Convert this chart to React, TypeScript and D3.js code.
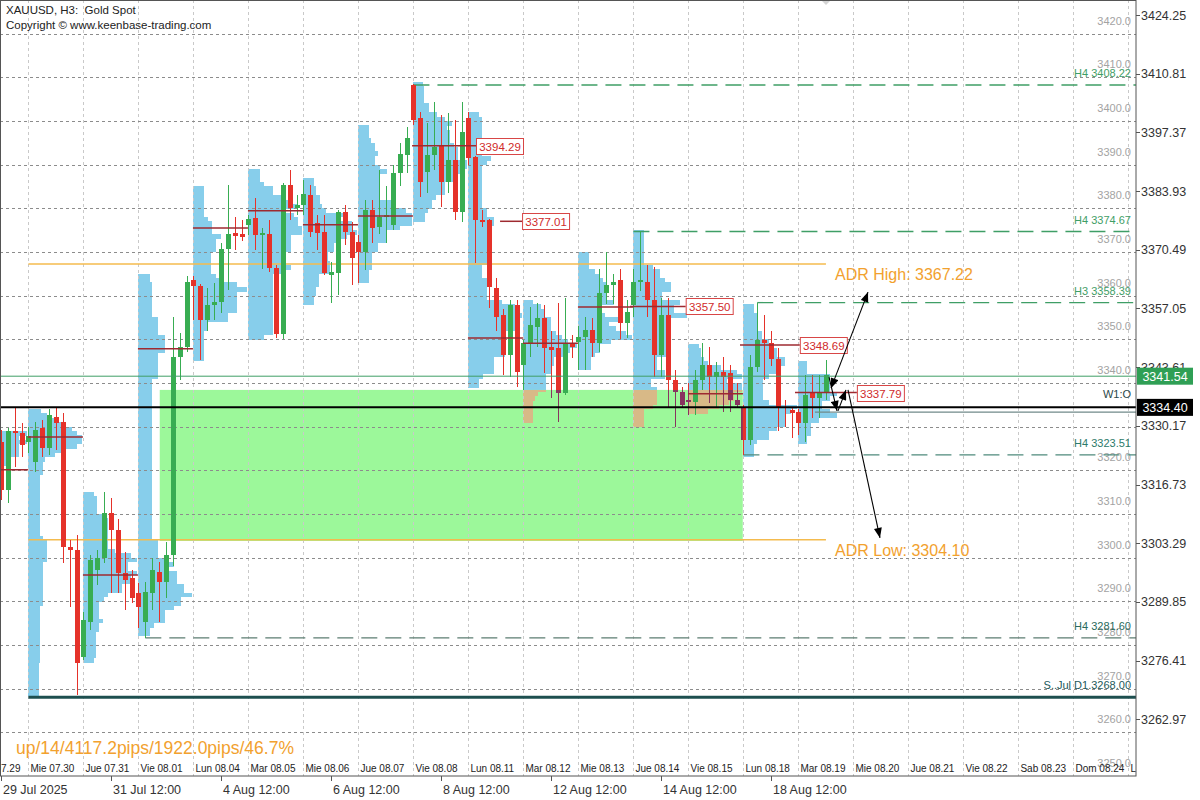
import * as d3 from 'd3';

// XAUUSD H3 candles. Bar index 0 = Tue 29 Jul 00:00, 8 bars per day (weekends skipped)
const FIRST_BAR = 4;
const barOpen = [
  3326.5, 3315.5, 3329.0, 3328.5,
  3326.5, 3321.9, 3329.7, 3325.1, 3332.2, 3331.0, 3302.4, 3301.7,
  3277.3, 3285.3, 3297.2, 3299.9, 3310.2, 3306.3, 3296.5, 3295.3,
  3291.9, 3285.3, 3291.9, 3296.7, 3294.4, 3300.6, 3345.9, 3348.3,
  3363.6, 3362.2, 3354.4, 3357.8, 3358.6, 3370.7, 3374.3, 3374.0,
  3376.2, 3377.7, 3373.9, 3374.1, 3366.3, 3351.2, 3385.3, 3380.1,
  3380.8, 3383.0, 3376.6, 3374.5, 3364.7, 3365.1, 3379.2, 3374.6,
  3372.3, 3370.0, 3379.6, 3375.7, 3378.0, 3376.2, 3388.1, 3392.2,
  3408.2, 3400.7, 3388.3, 3392.2, 3394.5, 3386.0, 3391.0, 3379.1,
  3400.7, 3391.7, 3377.3, 3377.3, 3361.7, 3355.6, 3346.4, 3357.8,
  3344.1, 3349.1, 3352.8, 3354.9, 3348.2, 3348.0, 3337.7, 3349.1,
  3349.4, 3350.4, 3352.1, 3349.1, 3360.6, 3362.4, 3363.5, 3353.7,
  3357.8, 3363.1, 3363.1, 3359.0, 3346.4, 3355.6, 3340.7, 3337.9,
  3336.2, 3335.6, 3340.7, 3344.1, 3341.4, 3342.5, 3342.3, 3336.1,
  3334.5, 3327.0, 3343.6, 3349.8, 3349.1, 3345.4, 3334.5, 3333.8,
  3333.4, 3330.8, 3337.9, 3336.6, 3337.9,
];
const barHigh = [
  3329.2, 3329.7, 3334.2, 3330.8,
  3330.0, 3331.0, 3331.5, 3334.0, 3334.3, 3333.0, 3304.0, 3305.2,
  3287.5, 3300.5, 3301.7, 3315.0, 3313.6, 3308.8, 3301.3, 3297.2,
  3294.2, 3294.4, 3300.0, 3299.0, 3303.5, 3355.1, 3351.4, 3364.5,
  3364.5, 3362.6, 3361.7, 3362.9, 3372.0, 3385.3, 3378.0, 3377.3,
  3378.5, 3382.4, 3375.5, 3377.3, 3367.0, 3385.8, 3388.7, 3383.0,
  3386.5, 3385.3, 3378.5, 3378.5, 3367.7, 3379.5, 3380.7, 3376.8,
  3373.9, 3381.9, 3382.0, 3388.8, 3385.0, 3390.0, 3395.0, 3398.5,
  3408.5, 3402.0, 3399.5, 3404.3, 3401.4, 3401.8, 3400.2, 3404.3,
  3402.0, 3392.0, 3379.6, 3377.5, 3364.0, 3357.0, 3359.0, 3359.0,
  3349.8, 3357.4, 3358.3, 3357.8, 3352.0, 3358.3, 3359.4, 3351.0,
  3353.0, 3355.0, 3354.9, 3366.0, 3370.0, 3365.0, 3366.0, 3359.0,
  3366.0, 3374.7, 3367.0, 3366.5, 3359.4, 3359.4, 3343.0, 3339.1,
  3339.9, 3343.0, 3349.1, 3348.2, 3344.8, 3345.9, 3344.1, 3340.0,
  3335.0, 3346.4, 3358.4, 3355.5, 3352.0, 3348.0, 3336.0, 3334.5,
  3334.0, 3341.8, 3341.8, 3341.8, 3345.2,
];
const barLow = [
  3313.2, 3312.5, 3320.8, 3323.0,
  3324.0, 3319.5, 3323.0, 3323.5, 3324.6, 3298.8, 3288.7, 3268.5,
  3276.5, 3283.5, 3293.7, 3298.8, 3291.9, 3291.9, 3288.0, 3289.6,
  3283.9, 3281.6, 3288.0, 3285.2, 3290.7, 3298.0, 3340.7, 3347.0,
  3354.4, 3345.3, 3352.0, 3354.4, 3356.0, 3361.3, 3370.4, 3372.5,
  3373.9, 3370.4, 3366.0, 3365.4, 3350.3, 3350.0, 3377.3, 3378.5,
  3378.5, 3373.4, 3370.4, 3364.7, 3358.3, 3360.1, 3371.6, 3362.4,
  3362.9, 3365.8, 3372.0, 3374.0, 3372.0, 3375.0, 3385.0, 3388.0,
  3399.0, 3382.5, 3383.5, 3388.8, 3380.3, 3383.5, 3377.3, 3376.8,
  3390.0, 3367.5, 3375.7, 3357.2, 3352.0, 3341.8, 3341.4, 3339.0,
  3338.4, 3346.0, 3348.2, 3342.3, 3336.5, 3331.0, 3337.2, 3345.7,
  3343.0, 3343.0, 3346.0, 3347.0, 3358.0, 3358.0, 3350.0, 3350.3,
  3355.0, 3361.0, 3355.0, 3341.4, 3341.4, 3334.5, 3329.9, 3334.5,
  3332.6, 3332.6, 3338.4, 3335.4, 3334.5, 3333.3, 3333.3, 3334.5,
  3323.5, 3325.8, 3342.5, 3340.7, 3343.8, 3329.0, 3330.0, 3327.5,
  3328.0, 3326.5, 3332.0, 3332.0, 3336.0,
];
const barClose = [
  3315.5, 3329.0, 3328.5, 3325.8,
  3327.9, 3329.2, 3325.1, 3332.7, 3330.8, 3302.4, 3301.7, 3275.9,
  3285.7, 3299.5, 3299.9, 3310.2, 3306.3, 3296.5, 3294.9, 3290.7,
  3288.7, 3292.1, 3297.2, 3294.4, 3300.6, 3345.9, 3348.3, 3363.2,
  3362.1, 3354.4, 3357.8, 3358.6, 3370.7, 3374.1, 3373.7, 3373.4,
  3377.5, 3373.9, 3374.3, 3366.3, 3351.2, 3385.3, 3380.1, 3380.8,
  3383.3, 3374.5, 3374.3, 3365.2, 3365.3, 3379.2, 3374.6, 3368.5,
  3370.0, 3379.6, 3375.4, 3378.0, 3378.5, 3388.1, 3392.5, 3396.1,
  3400.2, 3386.0, 3392.2, 3394.0, 3386.0, 3391.0, 3379.1, 3397.5,
  3391.5, 3377.3, 3376.8, 3362.0, 3355.1, 3346.4, 3357.8, 3342.5,
  3349.1, 3353.2, 3354.9, 3348.0, 3347.5, 3337.7, 3349.1, 3348.2,
  3350.6, 3352.1, 3349.1, 3360.6, 3362.4, 3363.1, 3353.7, 3356.2,
  3363.1, 3363.6, 3359.0, 3346.4, 3355.6, 3340.7, 3337.9, 3335.0,
  3335.6, 3340.7, 3344.1, 3341.4, 3342.5, 3341.4, 3336.1, 3335.0,
  3327.0, 3343.6, 3349.8, 3349.1, 3345.4, 3334.5, 3334.2, 3333.1,
  3330.8, 3337.2, 3336.6, 3337.9, 3341.8,
];

const dayNames = [
  'Mar 07.29', 'Mie 07.30', 'Jue 07.31', 'Vie 08.01', 'Lun 08.04', 'Mar 08.05', 'Mie 08.06',
  'Jue 08.07', 'Vie 08.08', 'Lun 08.11', 'Mar 08.12', 'Mie 08.13', 'Jue 08.14', 'Vie 08.15',
  'Lun 08.18', 'Mar 08.19', 'Mie 08.20', 'Jue 08.21', 'Vie 08.22', 'Sab 08.23', 'Dom 08.24', 'Lun 08.25',
];
const axisBars = [4, 20, 36, 52, 68, 84, 100, 116];
const axisTexts = ['29 Jul 2025', '31 Jul 12:00', '4 Aug 12:00', '6 Aug 12:00', '8 Aug 12:00', '12 Aug 12:00', '14 Aug 12:00', '18 Aug 12:00'];
const priceTicks = [3424.25, 3410.81, 3397.37, 3383.93, 3370.49, 3357.05, 3343.61, 3330.17, 3316.73, 3303.29, 3289.85, 3276.41, 3262.97];

// daily profile middle lines (unlabelled)
const pocDays = [0, 1, 2, 3, 4, 5, 6, 7, 9, 10, 11, 13];
const pocPrices = [3320.1, 3327.6, 3296.0, 3347.8, 3375.5, 3379.4, 3376.2, 3378.2, 3350.3, 3349.1, 3357.4, 3337.5];
// labelled POCs: price, line start and label position (fractional bar units)
const nPocPrices = [3394.29, 3377.01, 3357.50, 3348.69, 3337.79];
const nPocFrom = [64.3, 77.1, 96.0, 112.0, 120.0];
const nPocLabelAt = [73.6, 80.3, 104.1, 120.7, 129.0];

// H4/H3/D1 levels
const levelNames = ['H4 3408.22', 'H4 3374.67', 'H3 3358.39', 'H4 3323.51', 'H4 3281.60', 'S..Jul D1.3268.00'];
const levelPrices = [3408.22, 3374.67, 3358.39, 3323.51, 3281.60, 3268.00];
const levelFrom = [64.5, 96.5, 114.5, 112.5, 25.5, 8.5];

const adrHigh = 3367.22;
const adrLow = 3304.10;
const adrFrom = 8.5;
const adrTo = 124.5;

const zoneTop = 3338.4;
const zoneBottom = 3303.8;
const zoneFrom = 27.6;
const zoneTo = 112.4;

const greenLine = 3341.54;
const bidLine = 3334.40;
const weekOpen = 3333.3;
const weekOpenFrom = 122.9;

const arrowFrom = [[125.24, 3338.8], [124.95, 3341.3], [126.25, 3333.6], [127.71, 3338.4]];
const arrowTo = [[130.62, 3360.8], [126.11, 3333.6], [127.42, 3338.4], [132.36, 3304.5]];
const arrowBoth = [true, false, false, false];

const PLOT_R = 1136;
const PLOT_B = 776;
const FONT = '"Liberation Sans", Arial, sans-serif';
const UP = '#38ad52';
const DOWN = '#e5322a';
const POC = '#9e2a30';

export default function App() {
  const y = d3.scaleLinear().domain([3424.25, 3262.97]).range([15, 719.3]);
  const bx = d3.scaleLinear().domain([0, 160]).range([-30, 1070]);
  const xc = (k: number) => bx(k + 0.5);

  const bars = barOpen.map((o, i) => ({
    k: FIRST_BAR + i, o, h: barHigh[i], l: barLow[i], c: barClose[i],
  }));
  const lastDay = Math.floor(bars[bars.length - 1].k / 8);

  // TPO-style profile from the candles of each day
  const profiles = d3.range(0, lastDay + 1).map(d => {
    const dayBars = bars.filter(b => Math.floor(b.k / 8) === d);
    const lo = Math.floor(d3.min(dayBars, b => b.l) as number);
    const hi = Math.ceil(d3.max(dayBars, b => b.h) as number);
    const bins = d3.range(lo, hi, 1).map(p => {
      const mid = p + 0.5;
      let w = 0;
      dayBars.forEach(b => {
        if (mid >= b.l && mid <= b.h) {
          w += mid >= Math.min(b.o, b.c) && mid <= Math.max(b.o, b.c) ? 1 : 0.6;
        }
      });
      return { p, w };
    });
    const max = d3.max(bins, b => b.w) || 1;
    const scale = d === lastDay ? 0.72 : 1;
    return { d, bins, max, scale };
  });

  const profileRects = (fill: string) =>
    profiles.map(pr => (
      <g key={pr.d} fill={fill}>
        {pr.bins.filter(b => b.w > 0).map(b => (
          <rect key={b.p} x={xc(pr.d * 8) - 0.5} y={y(b.p + 1)}
            width={54 * pr.scale * (0.18 + 0.82 * Math.pow(b.w / pr.max, 1.7))}
            height={y(b.p) - y(b.p + 1) + 0.3} />
        ))}
      </g>
    ));

  const candles = (down: string, up: string) =>
    bars.map(b => {
      const col = b.c >= b.o ? up : down;
      const x = Math.round(xc(b.k));
      const top = y(Math.max(b.o, b.c));
      const bot = y(Math.min(b.o, b.c));
      return (
        <g key={b.k}>
          <line x1={x + 0.5} x2={x + 0.5} y1={y(b.h)} y2={y(b.l)} stroke={col} strokeWidth={1} />
          <rect x={x - 2} y={top} width={5} height={Math.max(1, bot - top)} fill={col} />
        </g>
      );
    });

  const gridLevels = d3.range(3250, 3421, 10);
  // the level caption that would sit under the bid line is hidden in the terminal
  const gridCaptions = gridLevels.filter(p => Math.abs(y(p) - 9 - y(bidLine)) > 12);

  return (
    <div style={{ position: 'fixed', left: 0, top: 0, width: 1200, height: 800, background: '#fff' }}>
      <svg width={1200} height={800} style={{ display: 'block' }} fontFamily={FONT}>
        <defs>
          <clipPath id="plot"><rect x={0} y={0} width={PLOT_R} height={PLOT_B} /></clipPath>
          <clipPath id="zone">
            <rect x={bx(zoneFrom)} y={y(zoneTop)} width={bx(zoneTo) - bx(zoneFrom)} height={y(zoneBottom) - y(zoneTop)} />
          </clipPath>
          <marker id="ah" viewBox="0 0 10 8" refX={10} refY={4} markerWidth={11} markerHeight={8}
            markerUnits="userSpaceOnUse" orient="auto-start-reverse">
            <path d="M0,0 L10,4 L0,8 z" fill="#000" />
          </marker>
        </defs>
        <rect x={0} y={0} width={1200} height={800} fill="#fff" />

        <g clipPath="url(#plot)">
          {/* volume profiles */}
          <g shapeRendering="crispEdges">{profileRects('#87ceeb')}</g>

          {/* demand zone */}
          <rect x={bx(zoneFrom)} y={y(zoneTop)} width={bx(zoneTo) - bx(zoneFrom)}
            height={y(zoneBottom) - y(zoneTop)} fill="#9cf89a" />
          <g clipPath="url(#zone)" shapeRendering="crispEdges">{profileRects('#d8b987')}</g>

          {/* grid */}
          <g stroke="#c9c9c9" strokeDasharray="3,3">
            {d3.range(1, 22).map(d => (
              <line key={d} x1={Math.round(xc(d * 8)) + 0.5} x2={Math.round(xc(d * 8)) + 0.5} y1={0} y2={PLOT_B} />
            ))}
          </g>
          <g stroke="#8c8c8c" strokeDasharray="3,3">
            {gridLevels.map(p => (
              <line key={p} x1={0} x2={PLOT_R} y1={Math.round(y(p)) + 0.5} y2={Math.round(y(p)) + 0.5} />
            ))}
          </g>
          <g fill="#a3a3a3" fontSize={11} textAnchor="end">
            {gridCaptions.map(p => (
              <text key={p} x={1131} y={y(p) - 9}>{p.toFixed(1)}</text>
            ))}
          </g>

          {/* ADR lines */}
          <g stroke="#f4bb4e" strokeWidth={1.5}>
            <line x1={bx(adrFrom)} x2={bx(adrTo)} y1={y(adrHigh)} y2={y(adrHigh)} />
            <line x1={bx(adrFrom)} x2={bx(adrTo)} y1={y(adrLow)} y2={y(adrLow)} />
          </g>

          {/* levels */}
          {levelPrices.map((p, i) => {
            const last = i === levelPrices.length - 1;
            const col = i < 3 ? '#3f9e66' : i === 3 ? '#4f8a7c' : '#5c7d72';
            return (
              <line key={i} x1={bx(levelFrom[i])} x2={PLOT_R} y1={y(p)} y2={y(p)}
                stroke={last ? '#1d4f4f' : col} strokeWidth={last ? 3 : 1.3}
                strokeDasharray={last ? undefined : '16,8'} />
            );
          })}
          <g fontSize={11} textAnchor="end">
            {levelNames.map((t, i) => (
              <text key={t} x={1131} y={y(levelPrices[i]) - 8}
                fill={i < 3 ? '#3f9e66' : i === 3 ? '#2d7a6a' : i === 4 ? '#2a6a5c' : '#23595a'}>{t}</text>
            ))}
          </g>

          {/* candles */}
          <g shapeRendering="crispEdges">{candles(DOWN, UP)}</g>
          <g clipPath="url(#zone)" shapeRendering="crispEdges">{candles('#88345f', UP)}</g>

          {/* profile middle lines */}
          <g stroke={POC} strokeWidth={1.5}>
            {pocDays.map((d, i) => (
              <line key={d} x1={xc(d * 8) - 0.5} x2={xc(d * 8 + 8) - 0.5} y1={y(pocPrices[i])} y2={y(pocPrices[i])} />
            ))}
            {nPocPrices.map((p, i) => (
              <line key={p} x1={bx(nPocFrom[i])} x2={bx(nPocLabelAt[i])} y1={y(p)} y2={y(p)} />
            ))}
          </g>
          {nPocPrices.map((p, i) => (
            <g key={p}>
              <rect x={bx(nPocLabelAt[i]) + 0.5} y={Math.round(y(p)) - 7.5} width={47} height={16}
                fill="#fff" stroke="#d84646" strokeWidth={1} />
              <text x={bx(nPocLabelAt[i]) + 24} y={Math.round(y(p)) + 4.5} textAnchor="middle"
                fontSize={11.5} fill="#d02a2a">{p.toFixed(2)}</text>
            </g>
          ))}

          {/* price lines */}
          <line x1={0} x2={PLOT_R} y1={y(greenLine)} y2={y(greenLine)} stroke="#3f9e66" strokeWidth={1} />
          <line x1={0} x2={PLOT_R} y1={y(bidLine)} y2={y(bidLine)} stroke="#000" strokeWidth={2} />
          <line x1={bx(weekOpenFrom)} x2={PLOT_R} y1={y(weekOpen)} y2={y(weekOpen)} stroke="#708a8a" strokeWidth={1.3} />
          <text x={1131} y={y(weekOpen) - 14} textAnchor="end" fontSize={11} fill="#2a4848">W1:O</text>

          {/* arrows */}
          <g stroke="#000" strokeWidth={1.1}>
            {arrowFrom.map((f, i) => (
              <line key={i} x1={bx(f[0])} y1={y(f[1])} x2={bx(arrowTo[i][0])} y2={y(arrowTo[i][1])}
                markerEnd="url(#ah)" markerStart={arrowBoth[i] ? 'url(#ah)' : undefined} />
            ))}
          </g>

          {/* ADR labels */}
          <g fill="#f2a12e" fontSize={16}>
            <text x={835} y={y(adrHigh) + 16}>ADR High: {adrHigh.toFixed(2)}</text>
            <text x={835} y={y(adrLow) + 16}>ADR Low: {adrLow.toFixed(2)}</text>
          </g>

          {/* day labels */}
          <g fontSize={10} fill="#222">
            {dayNames.map((t, d) => (
              <text key={t} x={xc(d * 8) + 2} y={772}>{t}</text>
            ))}
          </g>

          <text x={16} y={754} fontSize={17.5} fill="#f2a12e">up/14/4117.2pips/1922.0pips/46.7%</text>

          <g fontSize={11.5} fill="#222">
            <text x={6} y={14} style={{ whiteSpace: 'pre' }}>{'XAUUSD, H3:  Gold Spot'}</text>
            <text x={6} y={29}>Copyright © www.keenbase-trading.com</text>
          </g>
          <path d="M821,0 L826,5 L831,0 Z" fill="#d4d4d4" />
        </g>

        {/* frame */}
        <rect x={0.5} y={0.5} width={PLOT_R - 0.5} height={PLOT_B - 0.5} fill="none" stroke="#555" strokeWidth={1} />

        {/* right axis */}
        <g fontSize={12.5} fill="#333">
          {priceTicks.map(p => (
            <g key={p}>
              <line x1={PLOT_R} x2={PLOT_R + 4} y1={Math.round(y(p)) + 0.5} y2={Math.round(y(p)) + 0.5} stroke="#555" />
              <text x={PLOT_R + 5} y={y(p) + 4.5}>{p.toFixed(2)}</text>
            </g>
          ))}
        </g>
        <rect x={PLOT_R + 1} y={y(greenLine) - 8.5} width={56} height={17} fill="#2f9f55" />
        <text x={PLOT_R + 29} y={y(greenLine) + 4.5} textAnchor="middle" fontSize={12.5} fill="#fff">{greenLine.toFixed(2)}</text>
        <rect x={PLOT_R + 1} y={y(bidLine) - 8.5} width={56} height={17} fill="#000" />
        <text x={PLOT_R + 29} y={y(bidLine) + 4.5} textAnchor="middle" fontSize={12.5} fill="#fff">{bidLine.toFixed(2)}</text>

        {/* bottom axis */}
        <g fontSize={12.5} fill="#333">
          {axisBars.map((k, i) => (
            <g key={k}>
              <line x1={Math.round(xc(k)) + 0.5} x2={Math.round(xc(k)) + 0.5} y1={PLOT_B} y2={PLOT_B + 5} stroke="#555" />
              <text x={xc(k) + 2} y={794}>{axisTexts[i]}</text>
            </g>
          ))}
        </g>
      </svg>
    </div>
  );
}
